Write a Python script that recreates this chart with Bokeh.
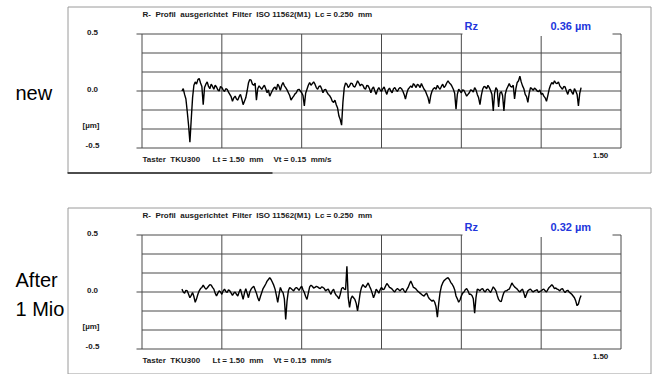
from bokeh.plotting import figure
from bokeh.layouts import column
from bokeh.models import Range1d
from bokeh.core.properties import value
from bokeh.embed import file_html
from bokeh.resources import INLINE

# ---------------- data ----------------
X_TICKS = [0.0, 0.3, 0.6, 0.9, 1.2, 1.5, 1.8]              # mm, vertical grid lines
Y_TICKS = [-0.5, -1 / 3, -1 / 6, 0.0, 1 / 6, 1 / 3, 0.5]    # µm, horizontal grid lines
Y_LABEL_TICKS = [0.5, 0.0, -0.5]
Y_LABELS = ["0.5", "0.0", "-0.5"]
X_END_LABEL = "1.50"

PROFILE_X = [round(0.15 + 0.005 * i, 3) for i in range(301)]  # mm, sampling positions

PROFILE_NEW = [
    0.00, 0.02, -0.03, -0.07, -0.18, -0.30, -0.45, -0.25, -0.06, 0.05, 0.08, 0.06, 0.10, 0.11, 0.07, 0.04, -0.12, 0.03, 0.06, 0.08,
    0.04, 0.02, 0.06, 0.04, 0.015, 0.05, 0.035, 0.01, 0.0, 0.04, 0.03, 0.01, -0.005, 0.02, 0.015, -0.01, -0.03, -0.05, -0.09, -0.06,
    -0.045, -0.07, -0.08, -0.05, -0.03, -0.07, -0.12, -0.09, -0.06, 0.0, 0.07, 0.10, 0.095, 0.06, 0.05, 0.07, -0.08, 0.02, 0.045, 0.03,
    0.015, 0.035, 0.05, 0.02, -0.015, 0.01, -0.045, -0.02, 0.005, 0.025, 0.035, 0.01, 0.06, 0.04, 0.005, 0.05, 0.075, 0.045, 0.03, 0.01,
    -0.015, -0.04, -0.08, -0.06, -0.045, -0.025, -0.015, 0.01, 0.015, 0.0, -0.015, -0.04, -0.13, -0.02, 0.015, 0.05, 0.075, 0.05, 0.065, 0.08,
    0.06, 0.03, 0.015, 0.04, 0.045, 0.02, -0.015, 0.01, 0.015, -0.01, -0.03, -0.04, -0.06, -0.09, -0.10, -0.08, -0.12, -0.15, -0.22, -0.25,
    -0.30, -0.10, 0.03, 0.07, 0.06, 0.03, 0.045, 0.07, 0.065, 0.04, 0.035, 0.06, 0.09, 0.07, 0.045, 0.06, 0.05, 0.025, 0.015, 0.05,
    0.045, 0.02, -0.015, 0.02, 0.035, 0.0, -0.03, 0.01, 0.03, 0.01, -0.005, 0.02, 0.035, 0.0, -0.03, 0.01, 0.025, 0.0, -0.015, 0.02,
    0.03, 0.01, -0.005, 0.02, 0.03, 0.02, 0.0, -0.03, -0.07, -0.02, 0.015, 0.03, 0.045, 0.03, 0.065, 0.05, 0.03, 0.06, 0.05, 0.03,
    0.065, 0.04, 0.015, 0.0, -0.03, -0.06, -0.11, -0.04, 0.0, 0.02, 0.03, 0.015, 0.05, 0.03, 0.015, 0.04, 0.06, 0.03, 0.045, 0.07,
    0.09, 0.07, 0.06, 0.04, 0.015, -0.02, -0.16, -0.03, 0.015, 0.0, -0.015, 0.01, 0.005, -0.02, -0.045, -0.03, -0.015, 0.01, 0.005, -0.01,
    0.03, 0.01, -0.03, -0.06, -0.12, -0.04, 0.015, 0.04, 0.035, 0.02, 0.05, 0.03, 0.005, -0.03, -0.175, -0.02, 0.03, 0.01, -0.14, -0.02,
    -0.005, -0.04, -0.175, -0.03, 0.015, 0.04, 0.065, 0.04, 0.035, 0.05, -0.07, 0.02, 0.075, 0.09, 0.13, 0.08, 0.045, 0.02, -0.03, -0.05,
    -0.10, -0.02, 0.03, 0.02, 0.005, 0.025, 0.015, 0.0, -0.005, 0.01, -0.03, -0.02, -0.045, -0.06, -0.09, -0.04, 0.015, 0.05, 0.075, 0.06,
    0.09, 0.07, 0.065, 0.08, 0.045, 0.03, 0.015, 0.04, 0.035, 0.0, -0.03, 0.01, 0.015, -0.01, -0.03, 0.02, 0.0, -0.03, -0.13, -0.02, 0.03,
]

PROFILE_AFTER = [
    0.025, 0.0, -0.01, 0.015, 0.01, -0.02, -0.05, -0.03, -0.005, -0.04, -0.09, -0.06, -0.02, 0.01, 0.03, 0.04, 0.06, 0.04, 0.025, 0.035,
    0.05, 0.065, 0.06, 0.04, 0.025, -0.01, -0.035, -0.01, 0.01, 0.0, -0.02, 0.01, 0.025, 0.005, -0.005, 0.02, 0.01, -0.01, -0.03, -0.01,
    0.0, -0.02, -0.035, 0.0, 0.025, -0.02, -0.065, -0.01, 0.03, -0.01, -0.05, 0.0, 0.025, 0.04, 0.05, 0.02, -0.01, -0.05, -0.08, -0.04,
    -0.005, 0.03, 0.05, 0.07, 0.095, 0.11, 0.125, 0.11, 0.085, 0.06, 0.025, -0.03, -0.09, -0.02, 0.04, 0.01, -0.005, -0.06, -0.24, -0.08,
    0.01, 0.04, 0.03, 0.02, 0.01, 0.03, 0.04, 0.03, 0.015, 0.035, 0.05, 0.02, -0.005, -0.04, -0.065, -0.01, 0.045, 0.06, 0.05, 0.035,
    0.04, 0.05, 0.045, 0.035, 0.03, 0.045, 0.04, 0.03, 0.01, 0.02, 0.025, 0.0, -0.02, 0.01, 0.025, -0.01, -0.03, -0.04, -0.06, -0.02,
    0.03, 0.04, 0.025, 0.02, 0.225, -0.05, -0.135, -0.06, -0.035, -0.05, -0.065, -0.10, -0.165, -0.09, -0.005, 0.04, 0.065, 0.05, 0.04, 0.06,
    0.08, 0.05, 0.025, -0.01, -0.05, -0.02, 0.025, 0.01, -0.01, 0.02, 0.04, 0.02, 0.025, 0.05, 0.075, 0.06, 0.04, 0.035, 0.025, 0.01,
    0.0, 0.02, 0.03, 0.02, 0.01, 0.025, 0.03, 0.01, -0.005, 0.02, 0.04, 0.07, 0.095, 0.07, 0.04, 0.035, 0.025, 0.01, 0.0, -0.01,
    -0.02, -0.03, -0.035, -0.02, -0.01, -0.04, -0.06, -0.07, -0.08, -0.07, -0.09, -0.13, -0.22, -0.10, -0.005, 0.05, 0.08, 0.10, 0.11, 0.12,
    0.125, 0.11, 0.085, 0.07, 0.05, 0.02, -0.035, -0.06, -0.09, -0.07, -0.035, -0.01, 0.0, 0.02, 0.03, 0.01, -0.02, -0.02, -0.03, -0.06,
    -0.185, -0.05, 0.025, 0.02, 0.01, 0.025, 0.03, 0.01, 0.0, 0.02, 0.025, 0.01, -0.005, 0.02, 0.045, 0.03, 0.01, -0.03, -0.065, -0.08,
    -0.085, -0.04, -0.005, 0.01, 0.01, 0.02, 0.025, 0.05, 0.08, 0.06, 0.045, 0.035, 0.025, 0.01, 0.0, 0.015, 0.025, -0.01, -0.05, -0.02,
    0.01, 0.02, 0.025, 0.01, 0.0, 0.01, 0.015, 0.02, -0.005, 0.005, 0.01, 0.02, 0.025, 0.01, 0.0, 0.02, 0.04, 0.05, 0.065, 0.05,
    0.03, 0.035, 0.025, 0.02, 0.01, 0.025, 0.03, 0.01, -0.005, 0.01, 0.015, 0.0, -0.01, -0.02, -0.035, -0.05, -0.08, -0.12, -0.105, -0.06, -0.03,
]

TITLE = "R-\u00a0 Profil\u00a0 ausgerichtet\u00a0 Filter\u00a0 ISO 11562(M1)\u00a0 Lc = 0.250\u00a0 mm"
FOOT_PARTS = ["Taster\u00a0 TKU300", "Lt = 1.50\u00a0 mm", "Vt = 0.15\u00a0 mm/s"]
RZ_NAME = "Rz"
RZ_VALUES = ["0.36 µm", "0.32 µm"]
SIDE_LABELS = [["new"], ["After", "1 Mio"]]
UNIT_LABEL = "[µm]"

# ---------------- layout / style ----------------
W = 656
HEIGHTS = [201, 173]
PL, PR, PT, PB = 141.5, 620.5, 33.5, 147.5     # plot box in panel pixels
FONT = value("Liberation Sans")
GRID_C = "#4a4a4a"
TEXT_C = "#1a1a1a"
BLUE = "#2236dc"
BORDER_C = "#9a9a9a"


def make_panel(profile, rz_value, side_lines, height, dark_bottom):
    n = min(len(PROFILE_X), len(profile))
    ppx = (PR - PL) / (X_TICKS[-1] - X_TICKS[0])
    ppy = (PB - PT) / (Y_TICKS[-1] - Y_TICKS[0])

    def fx(px):
        return X_TICKS[0] + (px - PL) / ppx

    def fy(py):
        return Y_TICKS[-1] - (py - PT) / ppy

    p = figure(width=W, height=height, output_backend="svg", toolbar_location=None,
               x_range=Range1d(fx(0), fx(W)), y_range=Range1d(fy(height), fy(0)),
               x_axis_type=None, y_axis_type=None, min_border=0, title=None)
    p.outline_line_color = None
    p.background_fill_color = "white"
    p.border_fill_color = "white"

    # outer panel border
    p.quad(left=[fx(67.5)], right=[fx(650.5)], top=[fy(6.5)], bottom=[fy(172.5)],
           fill_color=None, line_color=BORDER_C, line_width=1)
    if dark_bottom:
        p.segment(x0=[fx(67)], x1=[fx(272)], y0=[fy(172.5)], y1=[fy(172.5)],
                  line_color="#222222", line_width=1.5)

    # grid
    n_y = len(Y_TICKS)
    p.segment(x0=[X_TICKS[0]] * n_y, x1=[X_TICKS[-1]] * n_y, y0=Y_TICKS, y1=Y_TICKS,
              line_color=GRID_C, line_width=1)
    n_x = len(X_TICKS)
    p.segment(x0=X_TICKS, x1=X_TICKS, y0=[Y_TICKS[0]] * n_x, y1=[Y_TICKS[-1]] * n_x,
              line_color=GRID_C, line_width=1)
    # ticks on the left
    n_l = len(Y_LABEL_TICKS)
    p.segment(x0=[fx(136)] * n_l, x1=[X_TICKS[0]] * n_l, y0=Y_LABEL_TICKS, y1=Y_LABEL_TICKS,
              line_color=GRID_C, line_width=1)

    # white label box over the top edge
    p.quad(left=[fx(462)], right=[fx(612)], top=[fy(14)], bottom=[fy(35.5)],
           fill_color="white", line_color=None)

    # profile
    p.line(PROFILE_X[:n], profile[:n], line_color="black", line_width=1.4)

    # y labels
    p.text(x=[fx(92)] * n_l, y=[fy(py) for py in (32, 89, 145)], text=Y_LABELS,
           text_font=FONT, text_font_size=value("8px"), text_font_style="bold",
           text_align="center", text_baseline="middle", text_color=TEXT_C)
    p.text(x=[fx(90.5)], y=[fy(124.5)], text=[UNIT_LABEL],
           text_font=FONT, text_font_size=value("8px"), text_font_style="bold",
           text_align="center", text_baseline="middle", text_color=TEXT_C)
    # x end label
    p.text(x=[fx(600)], y=[fy(155)], text=[X_END_LABEL],
           text_font=FONT, text_font_size=value("8px"), text_font_style="bold",
           text_align="center", text_baseline="middle", text_color=TEXT_C)
    # title
    p.text(x=[fx(142)], y=[fy(14)], text=[TITLE],
           text_font=FONT, text_font_size=value("8px"), text_font_style="bold",
           text_align="left", text_baseline="middle", text_color=TEXT_C)
    # footer
    p.text(x=[fx(142), fx(212), fx(273)], y=[fy(159)] * 3, text=FOOT_PARTS,
           text_font=FONT, text_font_size=value("8px"), text_font_style="bold",
           text_align="left", text_baseline="middle", text_color=TEXT_C)
    # Rz
    p.text(x=[fx(464), fx(550)], y=[fy(25)] * 2, text=[RZ_NAME, rz_value],
           text_font=FONT, text_font_size=value("11px"), text_font_style="bold",
           text_align="left", text_baseline="middle", text_color=BLUE)
    # side labels
    if len(side_lines) == 1:
        ys = [fy(92)]
    else:
        ys = [fy(78), fy(107)]
    p.text(x=[fx(15)] * len(side_lines), y=ys, text=side_lines,
           text_font=FONT, text_font_size=value("20px"),
           text_align="left", text_baseline="middle", text_color="black")
    return p


p1 = make_panel(PROFILE_NEW, RZ_VALUES[0], SIDE_LABELS[0], HEIGHTS[0], True)
p2 = make_panel(PROFILE_AFTER, RZ_VALUES[1], SIDE_LABELS[1], HEIGHTS[1], False)
layout = column(p1, p2, spacing=0)

open("out.html", "w").write(file_html(layout, INLINE))
